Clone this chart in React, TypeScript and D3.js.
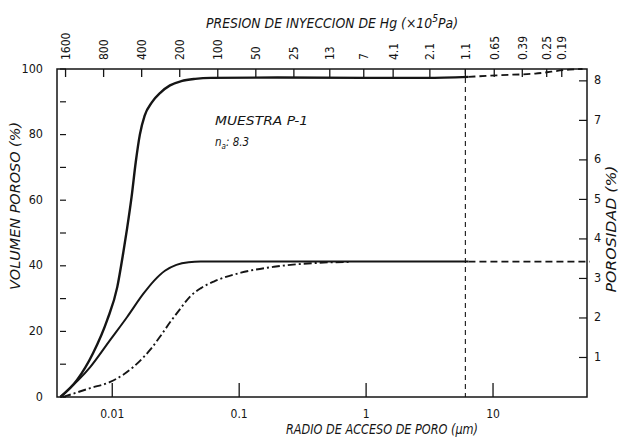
import React from 'react';
import * as d3 from 'd3';

// pore access radius (µm) and cumulative pore volume (%)
const rUpper = [0.0039, 0.00528, 0.00707, 0.00913, 0.01095, 0.0122, 0.0131, 0.0142, 0.0153, 0.0165, 0.018, 0.0205, 0.024, 0.0285, 0.035, 0.045, 0.06, 0.2, 1, 3, 6.4];
const vUpper = [0, 5.2, 13.4, 23.5, 33.5, 43.9, 51.5, 61, 71.5, 80, 85.8, 89.8, 92.8, 95, 96.3, 97, 97.3, 97.4, 97.3, 97.3, 97.6];
const rUpperExt = [6.4, 11.2, 21.5, 39.8, 50.7];
const vUpperExt = [97.6, 98.1, 98.6, 99.8, 100];

const rMiddle = [0.0039, 0.0067, 0.00964, 0.0131, 0.0176, 0.0214, 0.026, 0.032, 0.04, 0.0497, 6.4];
const vMiddle = [0, 9.1, 17.4, 24.4, 31.5, 35.5, 38.5, 40.3, 41.1, 41.3, 41.3];
const rMiddleExt = [6.4, 58];
const vMiddleExt = [41.3, 41.3];

const rDashDot = [0.0041, 0.0067, 0.00964, 0.0122, 0.0147, 0.0175, 0.02, 0.024, 0.0288, 0.0345, 0.0414, 0.05, 0.0631, 0.1033, 0.188, 0.42, 0.764];
const vDashDot = [0, 2.7, 4.6, 6.8, 9.2, 12, 14.5, 18.6, 23, 27, 30.8, 33.2, 35.2, 37.9, 39.7, 40.9, 41.2];

// axes
const radiusTicks = [0.01, 0.1, 1, 10];
const radiusLabels = ['0.01', '0.1', '1', '10'];
const pressureTicks = [1600, 800, 400, 200, 100, 50, 25, 13, 7, 4.1, 2.1, 1.1, 0.65, 0.39, 0.25, 0.19];
const pressureLabels = ['1600', '800', '400', '200', '100', '50', '25', '13', '7', '4.1', '2.1', '1.1', '0.65', '0.39', '0.25', '0.19'];
const volumeTicks = [0, 10, 20, 30, 40, 50, 60, 70, 80, 90, 100];
const volumeLabels = [0, 20, 40, 60, 80, 100];
const porosityTicks = [1, 2, 3, 4, 5, 6, 7, 8];
const totalPorosity = 8.3;
const cutPressure = 1.1;

const W = 623;
const H = 439;
const left = 57;
const right = 587;
const top = 69;
const bottom = 397;

const ink = '#151515';
const font = "'DejaVu Sans Condensed', 'DejaVu Sans', sans-serif";

export default function App() {
  const x = d3.scaleLog().domain([0.00367, 55]).range([left, right]);
  const xTop = d3.scaleLog().domain([1870, 0.12]).range([left, right]);
  const y = d3.scaleLinear().domain([0, 100]).range([bottom, top]);
  const yRight = d3.scaleLinear().domain([0, totalPorosity]).range([bottom, top]);

  const line = d3
    .line<[number, number]>()
    .x((d) => x(d[0]))
    .y((d) => y(d[1]))
    .curve(d3.curveMonotoneX);

  const zip = (a: number[], b: number[]) => a.map((v, i) => [v, b[i]] as [number, number]);
  const xCut = xTop(cutPressure);

  return (
    <svg
      width={W}
      height={H}
      style={{ position: 'absolute', left: 0, top: 0, background: '#fff' }}
      fontFamily={font}
    >
      <rect x={0} y={0} width={W} height={H} fill="#fff" />

      {/* frame */}
      <rect x={left} y={top} width={right - left} height={bottom - top} fill="none" stroke={ink} strokeWidth={1.5} />

      {/* top pressure axis */}
      {pressureTicks.map((p, i) => (
        <g key={'p' + i}>
          <line x1={xTop(p)} x2={xTop(p)} y1={top} y2={top + 8} stroke={ink} strokeWidth={1.3} />
          <text
            transform={`translate(${xTop(p) + 1},${60}) rotate(-90)`}
            fontSize={12}
            fill={ink}
            textAnchor="start"
            dominantBaseline="middle"
          >
            {pressureLabels[i]}
          </text>
        </g>
      ))}
      <text x={206} y={28} fontSize={13.5} fontStyle="italic" fill={ink} textLength={252} lengthAdjust="spacingAndGlyphs">
        PRESION DE INYECCION DE Hg (×10
        <tspan dy={-6} fontSize={10}>5</tspan>
        <tspan dy={6}>Pa)</tspan>
      </text>

      {/* bottom radius axis */}
      {radiusTicks.map((r, i) => (
        <g key={'r' + i}>
          <line x1={x(r)} x2={x(r)} y1={bottom} y2={bottom - 14} stroke={ink} strokeWidth={1.3} />
          <text x={x(r)} y={418} fontSize={12} fill={ink} textAnchor="middle">
            {radiusLabels[i]}
          </text>
        </g>
      ))}
      <text x={286} y={434} fontSize={13.5} fontStyle="italic" fill={ink} textLength={192} lengthAdjust="spacingAndGlyphs">
        RADIO DE ACCESO DE PORO (μm)
      </text>

      {/* left volume axis */}
      {volumeTicks.map((v) => (
        <line key={'v' + v} x1={left + 3} x2={left + 9} y1={y(v)} y2={y(v)} stroke={ink} strokeWidth={1.2} />
      ))}
      {volumeLabels.map((v) => (
        <text key={'vl' + v} x={43} y={y(v)} fontSize={12.5} fill={ink} textAnchor="end" dominantBaseline="middle">
          {v}
        </text>
      ))}
      <text
        transform={`translate(20,${206}) rotate(-90)`}
        fontSize={13.5}
        fontStyle="italic"
        fill={ink}
        textAnchor="middle"
        textLength={168}
        lengthAdjust="spacingAndGlyphs"
      >
        VOLUMEN POROSO (%)
      </text>

      {/* right porosity axis */}
      {porosityTicks.map((p) => (
        <g key={'n' + p}>
          <line x1={right - 8} x2={right} y1={yRight(p)} y2={yRight(p)} stroke={ink} strokeWidth={1.2} />
          <text x={594} y={yRight(p)} fontSize={12.5} fill={ink} dominantBaseline="middle">
            {p}
          </text>
        </g>
      ))}
      <text
        transform={`translate(616,${229}) rotate(-90)`}
        fontSize={13.5}
        fontStyle="italic"
        fill={ink}
        textAnchor="middle"
        textLength={127}
        lengthAdjust="spacingAndGlyphs"
      >
        POROSIDAD (%)
      </text>

      {/* sample label */}
      <text x={215} y={125} fontSize={11.5} fontStyle="italic" fill={ink} textLength={93} lengthAdjust="spacingAndGlyphs">
        MUESTRA P-1
      </text>
      <text x={215} y={146} fontSize={11.5} fontStyle="italic" fill={ink}>
        n<tspan dy={3} fontSize={8}>a</tspan>
        <tspan dy={-3}>: 8.3</tspan>
      </text>

      {/* vertical cut at 1.1 ×10^5 Pa */}
      <line x1={xCut} x2={xCut} y1={top} y2={bottom} stroke={ink} strokeWidth={1.1} strokeDasharray="5 4" />

      {/* curves */}
      <path d={line(zip(rUpper, vUpper)) || ''} fill="none" stroke={ink} strokeWidth={2.4} />
      <path d={line(zip(rUpperExt, vUpperExt)) || ''} fill="none" stroke={ink} strokeWidth={1.8} strokeDasharray="7 4" />
      <path d={line(zip(rMiddle, vMiddle)) || ''} fill="none" stroke={ink} strokeWidth={2} />
      <path d={line(zip(rMiddleExt, vMiddleExt)) || ''} fill="none" stroke={ink} strokeWidth={1.8} strokeDasharray="7 4" />
      <path d={line(zip(rDashDot, vDashDot)) || ''} fill="none" stroke={ink} strokeWidth={1.9} strokeDasharray="8 3 2 3" />
    </svg>
  );
}
